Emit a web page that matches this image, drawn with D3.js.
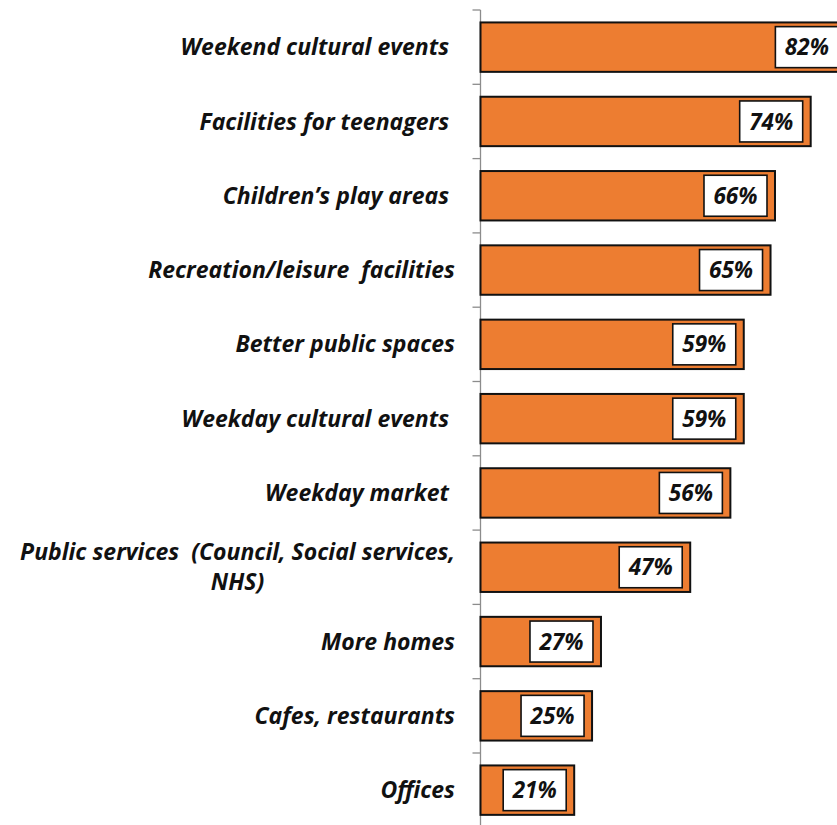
<!DOCTYPE html>
<html><head><meta charset="utf-8">
<script src="https://cdn.jsdelivr.net/npm/d3@7"></script>
<style>body{margin:0;background:#fff}svg{display:block}</style>
</head><body>
<svg id="c" width="837" height="825"></svg>
<script>
const categories = [
  ["Weekend cultural events "],
  ["Facilities for teenagers "],
  ["Children\u2019s play areas "],
  ["Recreation/leisure  facilities"],
  ["Better public spaces"],
  ["Weekday cultural events "],
  ["Weekday market "],
  ["Public services  (Council, Social services,", "NHS)"],
  ["More homes"],
  ["Cafes, restaurants"],
  ["Offices"]
];
const values = [82, 74, 66, 65, 59, 59, 56, 47, 27, 25, 21];
const valueLabels = values.map(v => v + "%");

const svg = d3.select("#c");
const x0 = 480.5;
const x = d3.scaleLinear().domain([0, 100]).range([x0, x0 + 446.2]);
const y = d3.scaleBand().domain(d3.range(categories.length)).range([10, 827.3]).paddingInner(0.335).paddingOuter(0.1675);
const font = "'Open Sans', sans-serif";

// axis line and ticks at band boundaries
svg.append("line").attr("x1", x0).attr("x2", x0).attr("y1", 10).attr("y2", 825)
  .attr("stroke", "#8c8c8c").attr("stroke-width", 1.3);
const step = y.step();
const bounds = d3.range(categories.length + 1).map(i => 10 + i * step).filter(v => v <= 825);
svg.selectAll(".tk").data(bounds).join("line")
  .attr("x1", x0 - 8).attr("x2", x0).attr("y1", d => d).attr("y2", d => d)
  .attr("stroke", "#8c8c8c").attr("stroke-width", 1.3);

// bars
svg.selectAll(".bar").data(values).join("rect")
  .attr("x", x0).attr("y", (d, i) => y(i))
  .attr("width", d => x(d) - x0).attr("height", y.bandwidth())
  .attr("fill", "#ED7D31").attr("stroke", "#111").attr("stroke-width", 2);

// value label boxes
const bw = 63, bh = 41;
svg.selectAll(".lb").data(values).join("rect")
  .attr("x", d => x(d) - 8 - bw).attr("y", (d, i) => y(i) + y.bandwidth() / 2 - bh / 2)
  .attr("width", bw).attr("height", bh)
  .attr("fill", "#fff").attr("stroke", "#111").attr("stroke-width", 1.6);
svg.selectAll(".lt").data(values).join("text")
  .attr("x", d => x(d) - 8 - bw / 2).attr("y", (d, i) => y(i) + y.bandwidth() / 2)
  .attr("dy", "0.36em").attr("text-anchor", "middle")
  .style("font-family", font).style("font-weight", "bold").style("font-style", "italic")
  .style("font-size", "22.5px").attr("fill", "#111")
  .text((d, i) => valueLabels[i]);

// category labels
const labelRight = 455;
categories.forEach((lines, i) => {
  const cy = y(i) + y.bandwidth() / 2;
  const lh = 30;
  const t = svg.append("text")
    .style("font-family", font).style("font-weight", "bold").style("font-style", "italic")
    .style("font-size", "23px").style("white-space", "pre").attr("fill", "#111");
  lines.forEach((ln, j) => {
    t.append("tspan").attr("x", 0).attr("y", cy + (j - (lines.length - 1) / 2) * lh)
      .attr("dy", "0.35em").attr("text-anchor", "middle").text(ln);
  });
  const widths = t.selectAll("tspan").nodes().map(n => n.getComputedTextLength());
  const maxW = d3.max(widths);
  t.selectAll("tspan").attr("x", labelRight - maxW / 2);
});
</script>
</body></html>
